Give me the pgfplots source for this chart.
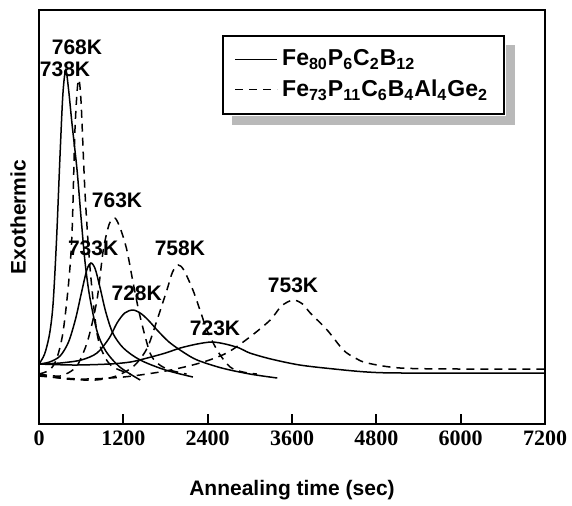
\documentclass[border=0pt]{standalone}
\usepackage{fontspec}
\setmainfont{Liberation Serif}
\newfontfamily\arial{Liberation Sans}
\usepackage{pgfplots}
\pgfplotsset{compat=1.18}

\newcommand{\lbl}{\arial\bfseries\fontsize{10.5}{12}\selectfont}

\begin{document}
\begin{tikzpicture}
\begin{axis}[
    scale only axis,
    width=253pt, height=207pt,
    xmin=0, xmax=7200, ymin=0, ymax=414,
    xtick={0,1200,...,7200},
    ytick=\empty,
    tick pos=bottom,
    major tick length=5pt,
    tick style={line width=1pt, black},
    axis line style={line width=1pt},
    /pgf/number format/assume math mode=true,
    /pgf/number format/1000 sep={},
    xticklabel style={font=\fontsize{11}{12}\selectfont\bfseries},
    xlabel={Annealing time (sec)},
    ylabel={Exothermic},
    xlabel style={font=\lbl, at={(axis description cs:0.5,0)}, anchor=center, yshift=-33pt},
    ylabel style={font=\lbl, at={(axis description cs:-0.0415,0.5)}, anchor=center},
    clip=false,
    legend cell align=left,
    legend image code/.code={\draw[#1] (0cm,0cm) -- (21pt,0cm);},
    legend style={name=leg, at={(rel axis cs:0.921,0.94)}, anchor=north east,
        draw=black, line width=1pt, fill=white,
        font=\arial\bfseries\fontsize{11.5}{13}\selectfont,
        row sep=1.5pt, inner xsep=6pt, inner ysep=5pt},
    solid/.style={line width=0.75pt, black, smooth, tension=0.5},
    dsh/.style={line width=0.75pt, black, smooth, tension=0.5, dash pattern=on 4pt off 3pt},
]
% Fe80P6C2B12 (solid)
\addplot[solid] coordinates {(0,60) (80,70) (150,90) (200,120) (250,185) (300,270) (340,330) (380,354) (420,335) (470,300) (540,255) (600,205) (655,162) (720,128) (825,93) (950,73) (1150,57) (1440,44)};
\addlegendentry{Fe\textsubscript{80}P\textsubscript{6}C\textsubscript{2}B\textsubscript{12}}
\addplot[solid, forget plot] coordinates {(0,60) (150,62) (300,68) (420,82) (520,105) (600,130) (680,154) (740,161) (800,155) (870,136) (950,112) (1050,91) (1200,76) (1440,64) (1800,54) (2190,47)};
\addplot[solid, forget plot] coordinates {(0,60) (300,61) (600,64) (825,71) (1000,86) (1110,101) (1220,111) (1340,114) (1460,110) (1580,102) (1680,94) (1850,82) (2050,72) (2250,64) (2600,56) (3000,50) (3390,46)};
\addplot[solid, forget plot] coordinates {(0,60) (500,59) (1000,60) (1300,62) (1540,66) (1800,71) (2010,76) (2250,80) (2460,82) (2650,80) (2850,76) (3000,71) (3300,65) (3710,59) (4200,55) (4670,52) (5200,51) (7200,51)};
% Fe73P11C6B4Al4Ge2 (dashed)
\addplot[dsh] coordinates {(0,50) (150,54) (250,65) (340,91) (420,140) (470,191) (510,291) (545,335) (570,344) (600,320) (655,231) (725,157) (825,91) (930,68) (1055,57) (1300,50)};
\addlegendentry{Fe\textsubscript{73}P\textsubscript{11}C\textsubscript{6}B\textsubscript{4}Al\textsubscript{4}Ge\textsubscript{2}}
\addplot[dsh, forget plot] coordinates {(0,50) (300,48) (500,55) (585,64) (700,85) (825,124) (915,174) (1000,200) (1080,206) (1160,195) (1250,174) (1340,141) (1440,107) (1580,71) (1700,60) (1860,54) (2100,50)};
\addplot[dsh, forget plot] coordinates {(0,49) (400,45) (800,44) (1100,48) (1350,58) (1540,76) (1680,104) (1820,134) (1900,152) (1980,159) (2060,154) (2190,134) (2300,112) (2390,94) (2550,72) (2720,57) (2900,52) (3100,50)};
\addplot[dsh, forget plot] coordinates {(0,48) (600,45) (1200,47) (1800,53) (2290,61) (2670,71) (3000,87) (3290,104) (3450,118) (3615,124) (3750,120) (3860,111) (4100,94) (4330,74) (4500,66) (4670,61) (5140,56) (6000,55) (7200,55)};
% peak labels
\node[font=\lbl] at (axis cs:540,377) {768K};
\node[font=\lbl] at (axis cs:370,355) {738K};
\node[font=\lbl] at (axis cs:1110,224) {763K};
\node[font=\lbl] at (axis cs:770,176) {733K};
\node[font=\lbl] at (axis cs:2005,176) {758K};
\node[font=\lbl] at (axis cs:1390,131) {728K};
\node[font=\lbl] at (axis cs:2505,96) {723K};
\node[font=\lbl] at (axis cs:3615,139) {753K};
\coordinate (bl) at (rel axis cs:0,0);
\coordinate (tr) at (rel axis cs:1,1);
\end{axis}
% legend shadow
\fill[gray!55] ([shift={(5pt,-0.5pt)}]leg.south west) rectangle ([shift={(5pt,-5pt)}]leg.south east);
\fill[gray!55] ([shift={(0.5pt,-5pt)}]leg.north east) rectangle ([shift={(5pt,-5pt)}]leg.south east);
\pgfresetboundingbox
\path ([shift={(-19.5pt,-40.5pt)}]bl) rectangle ([shift={(13.5pt,5pt)}]tr);
\end{tikzpicture}
\end{document}
